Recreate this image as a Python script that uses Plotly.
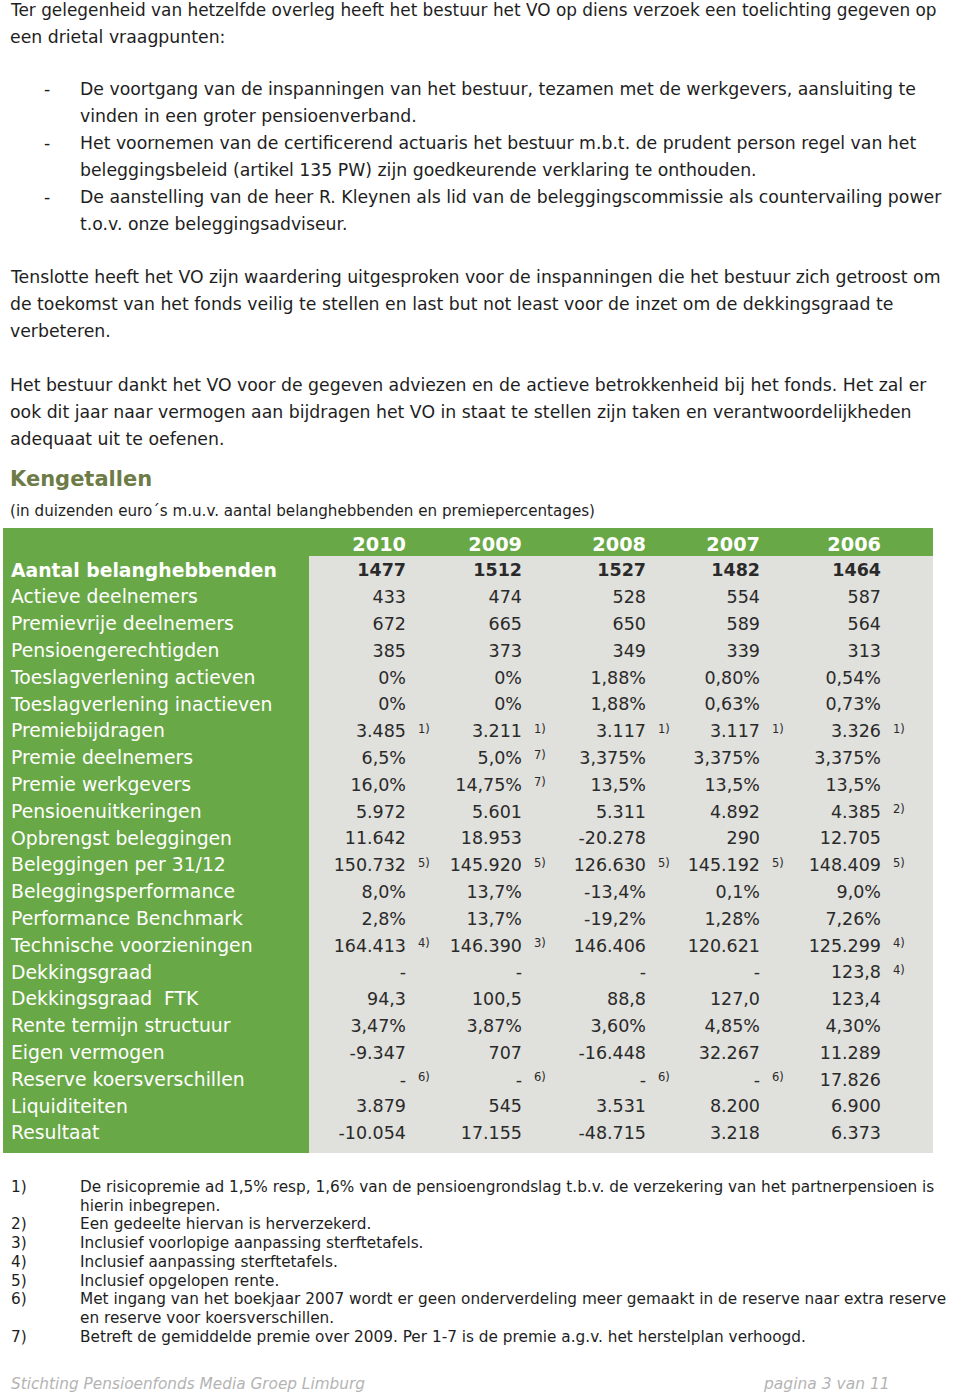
import plotly.graph_objects as go

W, H = 960, 1395

years = ["2010", "2009", "2008", "2007", "2006"]

labels = [
    "Aantal belanghebbenden", "Actieve deelnemers", "Premievrije deelnemers",
    "Pensioengerechtigden", "Toeslagverlening actieven", "Toeslagverlening inactieven",
    "Premiebijdragen", "Premie deelnemers", "Premie werkgevers", "Pensioenuitkeringen",
    "Opbrengst beleggingen", "Beleggingen per 31/12", "Beleggingsperformance",
    "Performance Benchmark", "Technische voorzieningen", "Dekkingsgraad",
    "Dekkingsgraad  FTK", "Rente termijn structuur", "Eigen vermogen",
    "Reserve koersverschillen", "Liquiditeiten", "Resultaat",
]

v2010 = ["1477", "433", "672", "385", "0%", "0%", "3.485", "6,5%", "16,0%", "5.972",
         "11.642", "150.732", "8,0%", "2,8%", "164.413", "-", "94,3", "3,47%",
         "-9.347", "-", "3.879", "-10.054"]
v2009 = ["1512", "474", "665", "373", "0%", "0%", "3.211", "5,0%", "14,75%", "5.601",
         "18.953", "145.920", "13,7%", "13,7%", "146.390", "-", "100,5", "3,87%",
         "707", "-", "545", "17.155"]
v2008 = ["1527", "528", "650", "349", "1,88%", "1,88%", "3.117", "3,375%", "13,5%", "5.311",
         "-20.278", "126.630", "-13,4%", "-19,2%", "146.406", "-", "88,8", "3,60%",
         "-16.448", "-", "3.531", "-48.715"]
v2007 = ["1482", "554", "589", "339", "0,80%", "0,63%", "3.117", "3,375%", "13,5%", "4.892",
         "290", "145.192", "0,1%", "1,28%", "120.621", "-", "127,0", "4,85%",
         "32.267", "-", "8.200", "3.218"]
v2006 = ["1464", "587", "564", "313", "0,54%", "0,73%", "3.326", "3,375%", "13,5%", "4.385",
         "12.705", "148.409", "9,0%", "7,26%", "125.299", "123,8", "123,4", "4,30%",
         "11.289", "17.826", "6.900", "6.373"]

# footnote markers next to the values
n2010 = ["", "", "", "", "", "", "1)", "", "", "", "", "5)", "", "", "4)", "", "", "", "", "6)", "", ""]
n2009 = ["", "", "", "", "", "", "1)", "7)", "7)", "", "", "5)", "", "", "3)", "", "", "", "", "6)", "", ""]
n2008 = ["", "", "", "", "", "", "1)", "", "", "", "", "5)", "", "", "", "", "", "", "", "6)", "", ""]
n2007 = ["", "", "", "", "", "", "1)", "", "", "", "", "5)", "", "", "", "", "", "", "", "6)", "", ""]
n2006 = ["", "", "", "", "", "", "1)", "", "", "2)", "", "5)", "", "", "4)", "4)", "", "", "", "", "", ""]

values = [v2010, v2009, v2008, v2007, v2006]
notes = [n2010, n2009, n2008, n2007, n2006]

intro = [
    "Ter gelegenheid van hetzelfde overleg heeft het bestuur het VO op diens verzoek een toelichting gegeven op",
    "een drietal vraagpunten:",
]
bullets = [
    ["De voortgang van de inspanningen van het bestuur, tezamen met de werkgevers, aansluiting te",
     "vinden in een groter pensioenverband."],
    ["Het voornemen van de certificerend actuaris het bestuur m.b.t. de prudent person regel van het",
     "beleggingsbeleid (artikel 135 PW) zijn goedkeurende verklaring te onthouden."],
    ["De aanstelling van de heer R. Kleynen als lid van de beleggingscommissie als countervailing power",
     "t.o.v. onze beleggingsadviseur."],
]
para1 = [
    "Tenslotte heeft het VO zijn waardering uitgesproken voor de inspanningen die het bestuur zich getroost om",
    "de toekomst van het fonds veilig te stellen en last but not least voor de inzet om de dekkingsgraad te",
    "verbeteren.",
]
para2 = [
    "Het bestuur dankt het VO voor de gegeven adviezen en de actieve betrokkenheid bij het fonds. Het zal er",
    "ook dit jaar naar vermogen aan bijdragen het VO in staat te stellen zijn taken en verantwoordelijkheden",
    "adequaat uit te oefenen.",
]
footnotes = [
    ("1)", ["De risicopremie ad 1,5% resp, 1,6% van de pensioengrondslag t.b.v. de verzekering van het partnerpensioen is",
            "hierin inbegrepen."]),
    ("2)", ["Een gedeelte hiervan is herverzekerd."]),
    ("3)", ["Inclusief voorlopige aanpassing sterftetafels."]),
    ("4)", ["Inclusief aanpassing sterftetafels."]),
    ("5)", ["Inclusief opgelopen rente."]),
    ("6)", ["Met ingang van het boekjaar 2007 wordt er geen onderverdeling meer gemaakt in de reserve naar extra reserve",
            "en reserve voor koersverschillen."]),
    ("7)", ["Betreft de gemiddelde premie over 2009. Per 1-7 is de premie a.g.v. het herstelplan verhoogd."]),
]

FONT = "DejaVu Sans"
TXT = "#1e1e1e"
GREEN = "#69a846"
GRAY = "#e0e0dc"

BODY = 17.3
LINE = 26.9
NOTE = 15.3

# table geometry (pixels)
T_LEFT, T_SPLIT, T_RIGHT = 3, 309, 933
T_TOP, T_HEAD, T_BOTTOM = 528, 556, 1153
ROW0, ROWH = 572, 26.8
col_right = [406, 522, 646, 760, 881]

fig = go.Figure()

ann = []


def line(x, y, text, size=BODY, color=TXT, **kw):
    ann.append(dict(x=x, y=y, xref="x", yref="y", text=text, showarrow=False,
                    xanchor=kw.pop("xanchor", "left"), yanchor="middle",
                    font=dict(family=FONT, size=size, color=color, **kw.pop("font", {})), **kw))


# first line runs to the page edge, so it is set a hair smaller
line(8, 10, intro[0], size=16.9)
line(8, 10 + LINE, intro[1])
y = 89
for b in bullets:
    line(42, y, "-")
    for t in b:
        line(78, y, t)
        y += LINE
y = 277
for t in para1:
    line(8, y, t)
    y += LINE
y = 385
for t in para2:
    line(8, y, t)
    y += LINE

line(8, 479, "<b>Kengetallen</b>", size=21, color="#6d7b47")
line(8, 511, "(in duizenden euro\u00b4s m.u.v. aantal belanghebbenden en premiepercentages)", size=15.15)

y = 1187
for num, txt in footnotes:
    line(9, y, num, size=NOTE)
    for t in txt:
        line(78, y, t, size=NOTE)
        y += 18.7

line(9, 1384, "Stichting Pensioenfonds Media Groep Limburg", size=15.3, color="#b4b4b4",
     font=dict(style="italic"))
line(892, 1384, "pagina 3 van 11", size=15.5, color="#b4b4b4", xanchor="right",
     font=dict(style="italic"))

shapes = [
    dict(type="rect", xref="x", yref="y", x0=T_LEFT, x1=T_SPLIT, y0=T_TOP, y1=T_BOTTOM,
         fillcolor=GREEN, line_width=0, layer="below"),
    dict(type="rect", xref="x", yref="y", x0=T_SPLIT, x1=T_RIGHT, y0=T_TOP, y1=T_HEAD,
         fillcolor=GREEN, line_width=0, layer="below"),
    dict(type="rect", xref="x", yref="y", x0=T_SPLIT, x1=T_RIGHT, y0=T_HEAD, y1=T_BOTTOM,
         fillcolor=GRAY, line_width=0, layer="below"),
]

row_y = [ROW0 + i * ROWH for i in range(len(labels))]

# row labels
lab_text = ["<b>" + labels[0] + "</b>"] + labels[1:]
fig.add_trace(go.Scatter(x=[11] * len(labels), y=row_y, mode="text", text=lab_text,
                         textposition="middle right", hoverinfo="skip",
                         textfont=dict(family=FONT, size=18.8, color="white")))

# year headers
fig.add_trace(go.Scatter(x=col_right, y=[ROW0 - ROWH + 1] * len(years), mode="text",
                         text=["<b>" + yr + "</b>" for yr in years],
                         textposition="middle left", hoverinfo="skip",
                         textfont=dict(family=FONT, size=19.3, color="white")))

for j, (vals, nts) in enumerate(zip(values, notes)):
    vt = ["<b>" + vals[0] + "</b>"] + vals[1:]
    fig.add_trace(go.Scatter(x=[col_right[j]] * len(vals), y=row_y, mode="text", text=vt,
                             textposition="middle left", hoverinfo="skip",
                             textfont=dict(family=FONT, size=17.5, color="#2a2a2a")))
    fig.add_trace(go.Scatter(x=[col_right[j] + 12] * len(nts), y=[r - 3 for r in row_y],
                             mode="text", text=nts, textposition="middle right",
                             hoverinfo="skip",
                             textfont=dict(family=FONT, size=11.5, color="#2a2a2a")))

fig.update_layout(
    width=W, height=H, margin=dict(l=0, r=0, t=0, b=0),
    paper_bgcolor="white", plot_bgcolor="rgba(0,0,0,0)",
    showlegend=False,
    xaxis=dict(range=[0, W], visible=False, fixedrange=True),
    yaxis=dict(range=[H, 0], visible=False, fixedrange=True),
    annotations=ann, shapes=shapes,
)

# the page body has a default 8px margin; drop it so the figure fills the window
fig.write_html("out.html", config={"displayModeBar": False},
               post_script="document.body.style.margin='0';")
